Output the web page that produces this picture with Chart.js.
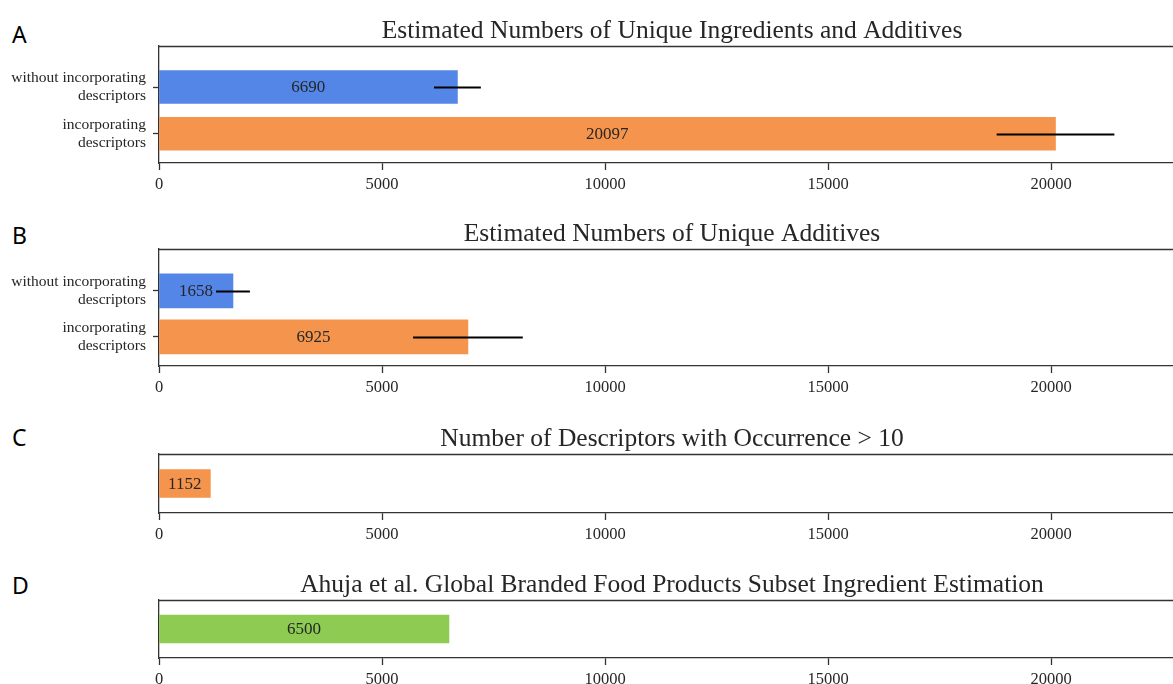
<!DOCTYPE html>
<html><head><meta charset="utf-8">
<script src="https://cdn.jsdelivr.net/npm/chart.js@4/dist/chart.umd.min.js"></script>
<style>
html,body{margin:0;padding:0;background:#fff;overflow:hidden;width:1173px;height:684px;position:relative;}
canvas{position:absolute;left:0;}
.lbl{position:absolute;left:12px;font-family:"Noto Sans";font-size:23px;line-height:1;color:#000;}
</style></head><body>
<div class="lbl" style="top:23px">A</div>
<div class="lbl" style="top:224px">B</div>
<div class="lbl" style="top:426px">C</div>
<div class="lbl" style="top:574px">D</div>
<canvas id="cA" width="1190" height="187" style="top:6px"></canvas>
<canvas id="cB" width="1190" height="187" style="top:209px"></canvas>
<canvas id="cC" width="1190" height="129" style="top:414px"></canvas>
<canvas id="cD" width="1190" height="128" style="top:560px"></canvas>
<script>
// ---- data ----
const tickValues = [0, 5000, 10000, 15000, 20000];
const tickLabels = ['0', '5000', '10000', '15000', '20000'];
const categories = [['without incorporating', 'descriptors'], ['incorporating', 'descriptors']];

const titleA = 'Estimated Numbers of Unique Ingredients and Additives';
const valuesA = [6690, 20097];
const errorsA = [525, 1320];

const titleB = 'Estimated Numbers of Unique Additives';
const valuesB = [1658, 6925];
const errorsB = [380, 1230];

const titleC = 'Number of Descriptors with Occurrence > 10';
const valuesC = [1152];

const titleD = 'Ahuja et al. Global Branded Food Products Subset Ingredient Estimation';
const valuesD = [6500];

const BLUE = '#5486e8', ORANGE = '#f5954d', GREEN = '#8dcb52';
const TXT = '#262626', SPINE = '#333333';

const deco = {
  id: 'deco',
  afterDatasetsDraw(chart, args, opts) {
    const {ctx, chartArea: a, scales: {x, y}} = chart;
    const ds = chart.data.datasets[0];
    ctx.save();
    // top spine
    ctx.strokeStyle = SPINE; ctx.lineWidth = 1.3;
    ctx.beginPath(); ctx.moveTo(a.left, Math.round(a.top) + 0.5); ctx.lineTo(a.right, Math.round(a.top) + 0.5); ctx.stroke();
    // value labels
    ctx.fillStyle = TXT; ctx.font = '17px "Liberation Serif"'; ctx.textAlign = 'center'; ctx.textBaseline = 'middle';
    ds.data.forEach(d => {
      ctx.fillText(String(d.x), (x.getPixelForValue(0) + x.getPixelForValue(d.x)) / 2, y.getPixelForValue(d.y) + 1);
    });
    // error bars
    (opts.err || []).forEach((e, i) => {
      const d = ds.data[i];
      const py = Math.round(y.getPixelForValue(d.y)) + 0.5;
      ctx.strokeStyle = '#000'; ctx.lineWidth = 1.8;
      ctx.beginPath(); ctx.moveTo(x.getPixelForValue(d.x - e), py); ctx.lineTo(x.getPixelForValue(d.x + e), py); ctx.stroke();
    });
    // title
    ctx.font = '25.5px "Liberation Serif"'; ctx.fillStyle = TXT; ctx.textBaseline = 'alphabetic'; ctx.textAlign = 'center';
    ctx.fillText(opts.title, (a.left + a.right) / 2, a.top - 8.5);
    ctx.restore();
  }
};

function makeChart(id, cats, values, errs, colors, title, yMin, yMax, thick, showY) {
  new Chart(document.getElementById(id), {
    type: 'bar',
    data: {datasets: [{data: values.map((v, i) => ({x: v, y: i})), backgroundColor: colors, barThickness: thick, borderWidth: 0}]},
    options: {
      indexAxis: 'y', responsive: false, animation: false, devicePixelRatio: 1,
      layout: {padding: {top: 40, right: 5, left: 0, bottom: 0}},
      plugins: {legend: {display: false}, tooltip: {enabled: false}, deco: {err: errs, title: title}},
      scales: {
        x: {
          type: 'linear', min: 0, max: 23000, offset: false,
          afterBuildTicks: s => { s.ticks = tickValues.map(v => ({value: v})); },
          afterFit: s => { s.height = 30; },
          grid: {offset: false, drawOnChartArea: false, drawTicks: true, tickLength: 7, tickWidth: 1.3, tickColor: SPINE},
          border: {display: true, color: SPINE, width: 1.3},
          ticks: {padding: 5, color: TXT, font: {family: 'Liberation Serif', size: 16.5}, maxRotation: 0, autoSkip: false,
                  callback: (v, i) => tickLabels[i]}
        },
        y: {
          type: 'linear', reverse: true, min: yMin, max: yMax, offset: false,
          afterBuildTicks: s => { s.ticks = values.map((v, i) => ({value: i})); },
          afterFit: s => { s.width = 159; },
          grid: {offset: false, drawOnChartArea: false, drawTicks: showY, tickLength: 6, tickWidth: 1.3, tickColor: SPINE},
          border: {display: true, color: SPINE, width: 1.3},
          ticks: {display: showY, padding: 7, color: TXT, font: {family: 'Liberation Serif', size: 15.5, lineHeight: 1.16},
                  autoSkip: false, callback: (v, i) => cats[i]}
        }
      }
    },
    plugins: [deco]
  });
}

makeChart('cA', categories, valuesA, errorsA, [BLUE, ORANGE], titleA, -0.878, 1.627, 33, true);
makeChart('cB', categories, valuesB, errorsB, [BLUE, ORANGE], titleB, -0.909, 1.632, 34, true);
makeChart('cC', [''], valuesC, [], [ORANGE], titleC, -0.5, 0.5, 28, false);
makeChart('cD', [''], valuesD, [], [GREEN], titleD, -0.5, 0.5, 28, false);
</script>
</body></html>
